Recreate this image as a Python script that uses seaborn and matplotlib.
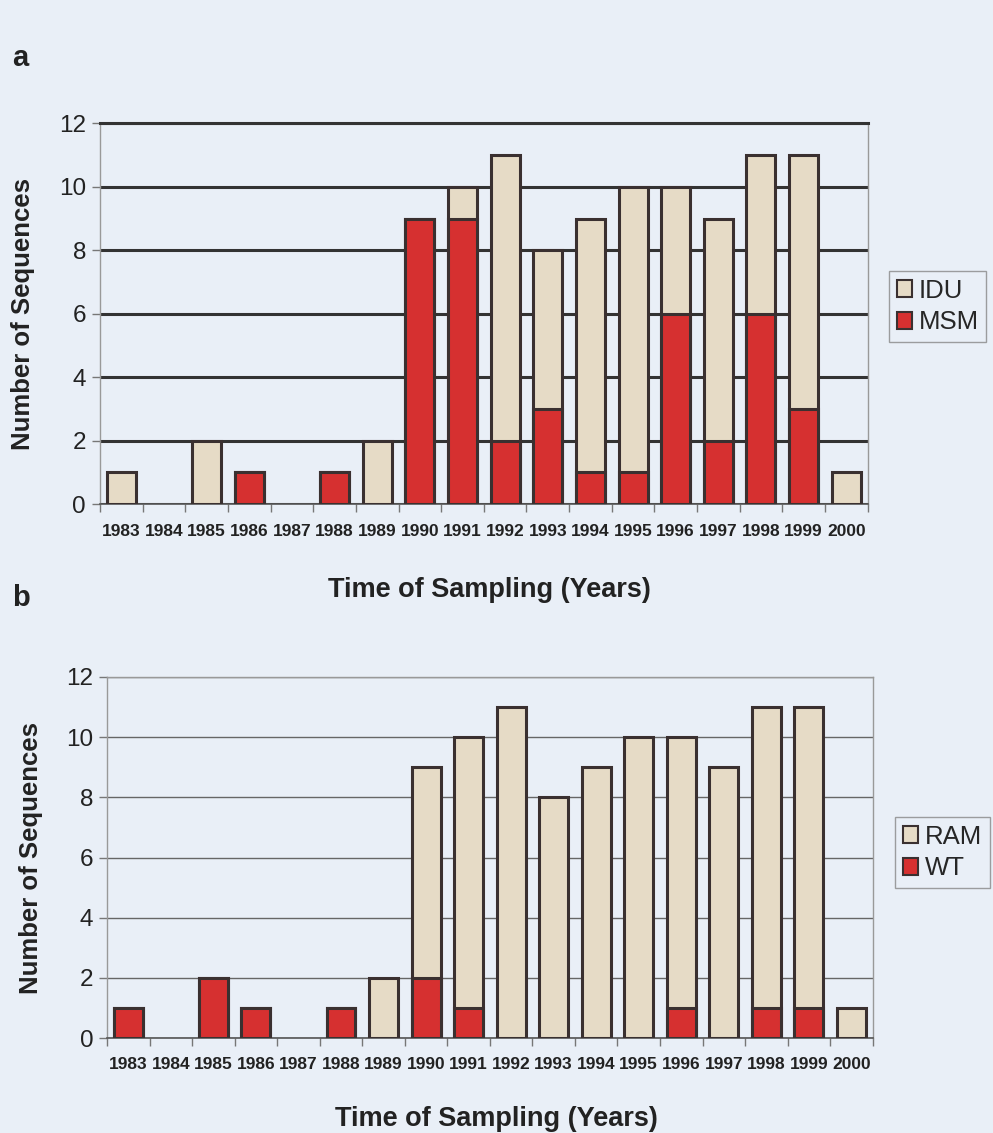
import matplotlib
matplotlib.use("Agg")
import matplotlib.pyplot as plt
import seaborn as sns
import pandas as pd
from matplotlib.patches import Patch

years = [str(y) for y in range(1983, 2001)]
# Panel a
idu_total = [1, 0, 2, 1, 0, 1, 2, 9, 10, 11, 8, 9, 10, 10, 9, 11, 11, 1]
msm = [0, 0, 0, 1, 0, 1, 0, 9, 9, 2, 3, 1, 1, 6, 2, 6, 3, 0]
# Panel b
ram_total = [1, 0, 2, 1, 0, 1, 2, 9, 10, 11, 8, 9, 10, 10, 9, 11, 11, 1]
wt = [1, 0, 2, 1, 0, 1, 0, 2, 1, 0, 0, 0, 0, 1, 0, 1, 1, 0]

BG = "#e9eff7"
BEIGE = "#e6dbc6"
RED = "#d63030"
EDGE = "#3a3030"

sns.set_theme(style="white")
plt.rcParams["font.family"] = ["Liberation Sans", "DejaVu Sans"]

fig = plt.figure(figsize=(9.93, 11.33), dpi=100, facecolor=BG)
ax_a = fig.add_axes([0.1007, 0.555, 0.773, 0.336])
ax_b = fig.add_axes([0.1078, 0.0838, 0.771, 0.3187])

def draw(ax, totals, lower, top_name, low_name, grid_lw, grid_col, leg_x, leg_y,
         ylab_x, xlab_y):
    ax.set_facecolor(BG)
    df = pd.DataFrame({"year": years, "total": totals, "lower": lower})
    sns.barplot(data=df, x="year", y="total", color=BEIGE, saturation=1,
                edgecolor=EDGE, linewidth=2.2, width=0.68, ax=ax, zorder=3)
    sns.barplot(data=df, x="year", y="lower", color=RED, saturation=1,
                edgecolor=EDGE, linewidth=2.2, width=0.68, ax=ax, zorder=4)
    for p in ax.patches:
        if p.get_height() == 0:
            p.set_visible(False)
    ax.set_ylim(0, 12)
    ax.set_xlim(-0.5, len(years) - 0.5)
    ax.set_yticks(range(0, 13, 2))
    ax.yaxis.grid(True, color=grid_col, linewidth=grid_lw, zorder=0)
    ax.set_axisbelow(True)
    ax.tick_params(axis="y", labelsize=17.5, length=6, width=1, color="#777777",
                   left=True, pad=4, labelcolor="#222222")
    ax.tick_params(axis="x", which="major", length=0, labelsize=12.5, pad=14,
                   labelcolor="#222222")
    for lab in ax.get_xticklabels():
        lab.set_fontweight("bold")
    ax.set_xticks([i - 0.5 for i in range(len(years) + 1)], minor=True)
    ax.tick_params(axis="x", which="minor", bottom=True, length=6, width=1,
                   color="#777777")
    for s in ["left", "right", "top"]:
        ax.spines[s].set_color("#999999")
        ax.spines[s].set_linewidth(1)
    ax.spines["bottom"].set_color("#555555")
    ax.spines["bottom"].set_linewidth(1.2)
    ax.set_xlabel("Time of Sampling (Years)", fontsize=19.5, fontweight="bold",
                  color="#222222")
    ax.set_ylabel("Number of Sequences", fontsize=18.5, fontweight="bold",
                  color="#222222")
    ax.xaxis.set_label_coords(0.508, xlab_y)
    ax.yaxis.set_label_coords(ylab_x, 0.5)
    handles = [Patch(facecolor=BEIGE, edgecolor=EDGE, linewidth=1.5, label=top_name),
               Patch(facecolor=RED, edgecolor=EDGE, linewidth=1.5, label=low_name)]
    leg = fig.legend(handles=handles, loc="upper left",
                     bbox_to_anchor=(leg_x, leg_y), fontsize=18.5, frameon=True,
                     fancybox=False, edgecolor="#888888", facecolor=BG,
                     handlelength=0.6, handleheight=0.6, handletextpad=0.25,
                     borderpad=0.3, labelspacing=0.3, borderaxespad=0)
    leg.get_frame().set_linewidth(1)

draw(ax_a, idu_total, msm, "IDU", "MSM", 2.2, "#333333", 889 / 993, 1 - 271 / 1133,
     -0.085, -0.19)
draw(ax_b, ram_total, wt, "RAM", "WT", 1.0, "#666666", 895 / 993, 1 - 817 / 1133,
     -0.084, -0.188)
ax_a.spines["top"].set_color("#333333")
ax_a.spines["top"].set_linewidth(2.2)

fig.text(0.012, 1 - 58 / 1133, "a", fontsize=21, fontweight="bold",
         va="center", ha="left", color="#222222")
fig.text(0.012, 1 - 598 / 1133, "b", fontsize=21, fontweight="bold",
         va="center", ha="left", color="#222222")

fig.savefig("out.png", dpi=100, facecolor=BG)
